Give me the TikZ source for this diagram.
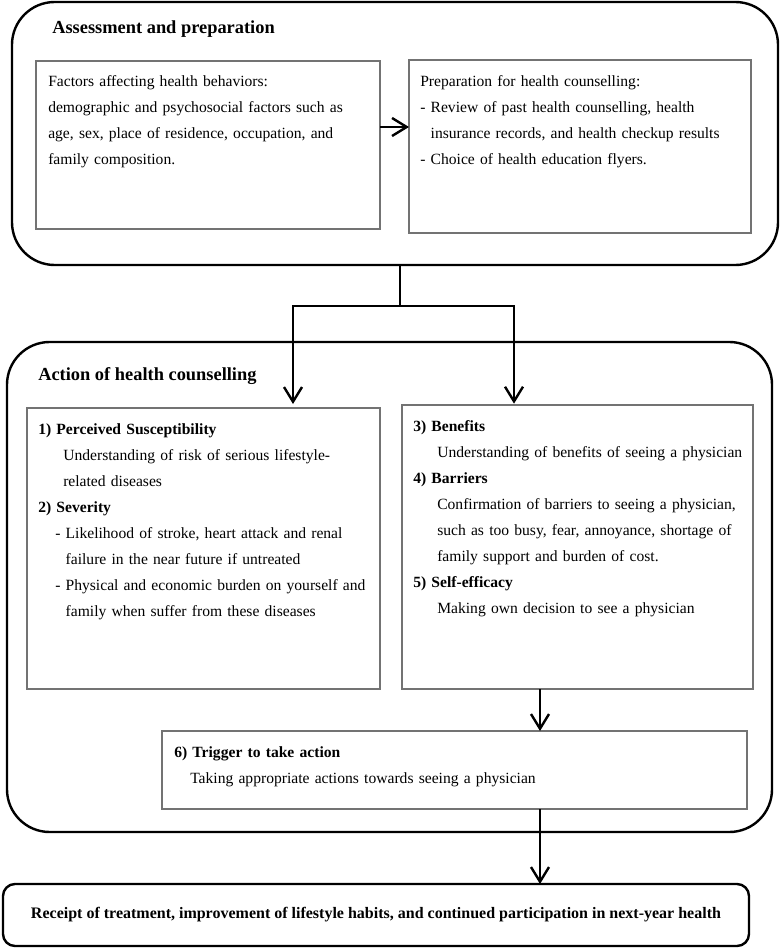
\documentclass[tikz,border=0pt]{standalone}
\usepackage{fontspec}
\setmainfont{Liberation Serif}
\usetikzlibrary{arrows.meta,positioning}

\tikzset{
  boxsize/.style 2 args={minimum width=#1*0.75pt,minimum height=#2*0.75pt},
  outerbox/.style={draw,line width=1.8pt,rounded corners=32pt,anchor=north west,inner sep=0pt,outer sep=0pt},
  endbox/.style={draw,line width=1.8pt,rounded corners=9pt,anchor=north west,inner sep=0pt,outer sep=0pt},
  inbox/.style={draw=black!55,line width=0.9pt,anchor=north west,inner sep=0pt,outer sep=0pt},
  txt/.style={font=\fontsize{11.7pt}{19.5pt}\selectfont,inner sep=0pt,anchor=base west,text width=#1*0.75pt,align=left},
  txt/.default=340,
  heading/.style={font=\bfseries\fontsize{13.8pt}{16pt}\selectfont,inner sep=0pt,anchor=base west},
  arr/.style={line width=1.8pt,-{Straight Barb[length=11pt,width=13.5pt]}},
  conn/.style={line width=1.8pt}
}

\begin{document}
\begin{tikzpicture}[x=0.75pt,y=-0.75pt]
    \useasboundingbox (0,0) rectangle (780,948);

    % assessment and preparation
    \node[outerbox,boxsize={766}{263}] (assess) at (12,2) {};
    \node[heading] (assesstitle) at (52,34) {Assessment and preparation};
    \node[inbox,boxsize={344}{168}] (factors) at (36,61) {};
    \node[inbox,boxsize={342}{173}] (prep) at (409,60) {};
    \node[txt] (factorstxt) at (48,87) {Factors affecting health behaviors:\\
        demographic and psychosocial factors such as\\
        age, sex, place of residence, occupation, and\\
        family composition.};
    \node[txt] (preptxt) at (420,87) {Preparation for health counselling:\\
        - Review of past health counselling, health\\
        \phantom{- }insurance records, and health checkup results\\
        - Choice of health education flyers.};

    % action of health counselling
    \node[outerbox,boxsize={765}{490}] (action) at (7,342) {};
    \node[heading] (actiontitle) at (38,380) {Action of health counselling};
    \node[inbox,boxsize={353}{281}] (susc) at (27,408) {};
    \node[inbox,boxsize={351}{284}] (benef) at (402,405) {};
    \node[inbox,boxsize={585}{78}] (trigger) at (162,731) {};
    \node[txt] (susctxt) at (38,434) {\textbf{1) Perceived Susceptibility}\\
        \hspace*{18.75pt}Understanding of risk of serious lifestyle-\\
        \hspace*{18.75pt}related diseases\\
        \textbf{2) Severity}\\
        \hspace*{12.75pt}- Likelihood of stroke, heart attack and renal\\
        \hspace*{12.75pt}\phantom{- }failure in the near future if untreated\\
        \hspace*{12.75pt}- Physical and economic burden on yourself and\\
        \hspace*{12.75pt}\phantom{- }family when suffer from these diseases};
    \node[txt] (beneftxt) at (413,431) {\textbf{3) Benefits}\\
        \hspace*{18pt}Understanding of benefits of seeing a physician\\
        \textbf{4) Barriers}\\
        \hspace*{18pt}\makebox[228.75pt][s]{Confirmation of barriers to seeing a physician,}\\
        \hspace*{18pt}\makebox[228.75pt][s]{such as too busy, fear, annoyance, shortage of}\\
        \hspace*{18pt}family support and burden of cost.\\
        \textbf{5) Self-efficacy}\\
        \hspace*{18pt}Making own decision to see a physician};
    \node[txt=560] (triggertxt) at (174,757) {\textbf{6) Trigger to take action}\\
        \hspace*{12pt}Taking appropriate actions towards seeing a physician};

    % outcome
    \node[endbox,boxsize={746}{62}] (receipt) at (3,884) {};
    \node[font=\bfseries\fontsize{12pt}{14pt}\selectfont,inner sep=0pt] (receipttxt) at (376,915)
        {Receipt of treatment, improvement of lifestyle habits, and continued participation in next-year health};

    % connectors
    \coordinate (arrowy) at (0,127);
    \coordinate (fork) at (400,306);
    \coordinate (forkl) at (293,306);
    \coordinate (forkr) at (514,306);
    \coordinate (downx) at (540,0);
    \draw[arr] (factors.east |- arrowy) -- (prep.west |- arrowy);
    \draw[conn] (fork |- assess.south) -- (fork);
    \draw[arr] (fork) -| ([yshift=3pt]forkl |- susc.north);
    \draw[arr] (fork) -| ([yshift=1pt]forkr |- benef.north);
    \draw[arr] (benef.south -| downx) -- (trigger.north -| downx);
    \draw[arr] (trigger.south -| downx) -- (receipt.north -| downx);
\end{tikzpicture}
\end{document}
